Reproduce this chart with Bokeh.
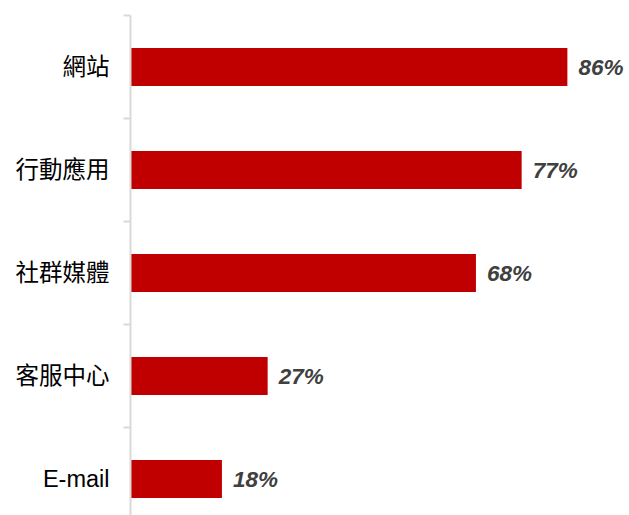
from bokeh.plotting import figure
from bokeh.models import ColumnDataSource, Range1d, FixedTicker
from bokeh.core.properties import value
from bokeh.embed import file_html
from bokeh.resources import INLINE

categories = ["網站", "行動應用", "社群媒體", "客服中心", "E-mail"]
percents = [86, 77, 68, 27, 18]
labels = [f"{v}%" for v in percents]

pos = list(range(len(categories)))
src = ColumnDataSource(dict(y=pos, v=percents, lab=labels))

band_px = 103.0
W, H = 629, 515
left = 130
top = 15
frame_h = H - top
frame_w = W - left
px_per = 5.08

p = figure(width=W, height=H, output_backend="svg", toolbar_location=None,
           x_range=Range1d(0, frame_w / px_per),
           y_range=Range1d(-0.5 + frame_h / band_px, -0.5),
           min_border_left=left, min_border_right=0, min_border_top=top,
           min_border_bottom=0)
p.outline_line_color = None
p.xgrid.visible = False
p.ygrid.visible = False
p.xaxis.visible = False
p.background_fill_color = "white"
p.border_fill_color = "white"

p.hbar(y="y", left=0, right="v", height=0.37, source=src,
       fill_color="#C00000", line_color=None)
p.text(x="v", y="y", text="lab", source=src, x_offset=11,
       text_font=value("Liberation Sans"), text_font_style="bold italic",
       text_font_size="22.5px", text_color="#404040",
       text_align="left", text_baseline="middle")

ax = p.yaxis[0]
ax.ticker = FixedTicker(ticks=pos, minor_ticks=[i - 0.5 for i in range(len(categories))])
ax.major_label_overrides = {i: c for i, c in enumerate(categories)}
ax.axis_line_color = "#d9d9d9"
ax.axis_line_width = 2
ax.major_tick_out = 0
ax.major_tick_in = 0
ax.minor_tick_out = 7
ax.minor_tick_in = 0
ax.minor_tick_line_color = "#d9d9d9"
ax.minor_tick_line_width = 2
ax.major_label_standoff = 14
ax.major_label_text_font = "'Liberation Sans', 'Noto Sans CJK TC'"
ax.major_label_text_font_size = "23.5px"
ax.major_label_text_color = "#000000"

open("out.html", "w").write(file_html(p, INLINE))
